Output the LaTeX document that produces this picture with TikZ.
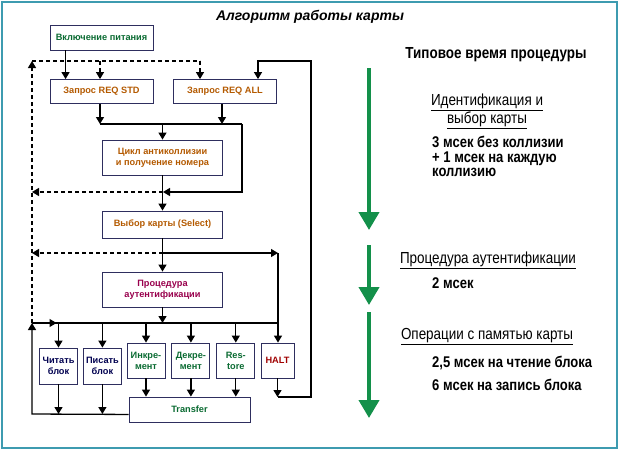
\documentclass[tikz,border=0pt]{standalone}
\usepackage{fontspec}
\setmainfont{Liberation Sans}
\newfontfamily\narrowfont[FakeStretch=0.84]{Liberation Sans}
\usetikzlibrary{arrows.meta, positioning, calc}
\definecolor{frameteal}{HTML}{3E9BB0}
\definecolor{boxline}{HTML}{2E2E5E}
\definecolor{txtgreen}{HTML}{0A6B32}
\definecolor{txtorange}{HTML}{B45A00}
\definecolor{txtpurple}{HTML}{99004D}
\definecolor{txtnavy}{HTML}{000050}
\definecolor{txtred}{HTML}{A00000}
\definecolor{timegreen}{HTML}{13904A}
\tikzset{
  box/.style={rectangle, draw=boxline, fill=white, line width=0.9pt,
              inner sep=0pt, align=center,
              font=\fontsize{9.2}{11}\selectfont\bfseries},
  widebox/.style={box, minimum width=103pt, minimum height=24pt},
  midbox/.style={box, minimum width=120pt, minimum height=35pt},
  opbox/.style={box, minimum width=38pt, minimum height=35pt},
  arrow/.style={-{Triangle[length=7pt, width=8pt]}, draw=black, line width=1.3pt},
  wire/.style={draw=black, line width=1.3pt},
  darrow/.style={-{Triangle[length=7pt, width=8pt]}, draw=black,
                 line width=1.3pt, dash pattern=on 4pt off 3pt},
  dwire/.style={draw=black, line width=1.3pt, dash pattern=on 4pt off 3pt},
  timearrow/.style={-{Triangle[length=18pt, width=20pt]}, draw=timegreen,
                    line width=4pt},
  rtext/.style={inner sep=0pt, align=left,
                font=\narrowfont\fontsize{15.5}{14.5}\selectfont\bfseries},
  rhead/.style={inner sep=0pt, align=center,
                font=\narrowfont\fontsize{16}{14}\selectfont},
}

\begin{document}
\begin{tikzpicture}[x=1pt, y=-1pt]
  \useasboundingbox (0,0) rectangle (620,451);
  \draw[frameteal, line width=1.6pt] (2,2) rectangle (617,448);

  \node[font=\fontsize{14}{16}\selectfont\bfseries\itshape] (title) at (310,17)
    {Алгоритм работы карты};

  % блоки алгоритма
  \node[widebox, minimum height=25pt, text=txtgreen] (power) at (101.5,37.5)
    {Включение питания};
  \node[widebox, text=txtorange] (reqstd) at (101.5,91.5) {Запрос REQ STD};
  \node[widebox, text=txtorange] (reqall) at (225,91.5) {Запрос REQ ALL};
  \node[midbox, text=txtorange] (loop) at (162.5,157.5)
    {Цикл антиколлизии\\и получение номера};
  \node[midbox, minimum height=27pt, text=txtorange] (select) at (162.5,224.5)
    {Выбор карты (Select)};
  \node[midbox, text=txtpurple] (auth) at (162.5,289.5)
    {Процедура\\аутентификации};

  \node[opbox, minimum height=36pt, text=txtnavy] (read) at (58.5,366) {Читать\\блок};
  \node[opbox, minimum height=36pt, text=txtnavy, right=5pt of read] (write) {Писать\\блок};
  \node[opbox, text=txtgreen] (inc) at (146,360.5) {Инкре-\\мент};
  \node[opbox, text=txtgreen, right=6pt of inc] (dec) {Декре-\\мент};
  \node[opbox, text=txtgreen, right=6pt of dec] (restore) {Res-\\tore};
  \node[opbox, minimum width=33pt, text=txtred] (halt) at (277.5,360.5) {HALT};
  \node[box, minimum width=121pt, minimum height=25pt, text=txtgreen] (transfer)
    at (189.5,409.5) {Transfer};

  % узлы линий
  \coordinate (dl) at (32,61);
  \coordinate (dm) at (100,61);
  \coordinate (dr) at (200,61);
  \coordinate (b1) at (100,124);
  \coordinate (b2) at (242,124);
  \coordinate (j1) at (163,192);
  \coordinate (j2) at (163,253);
  \coordinate (hc) at (278,253);
  \coordinate (sl) at (32,323);
  \coordinate (rb) at (32,414);
  \coordinate (hb) at (278,397);
  \coordinate (rt) at (311,61);
  \coordinate (ra) at (258,61);

  % связи
  \draw[arrow] ([xshift=16pt]power.south west) -- ([xshift=16pt]reqstd.north west);
  \draw[dwire] (dl) -- (dr);
  \draw[darrow] (dm) -- (dm |- reqstd.north);
  \draw[darrow] (dr) -- (dr |- reqall.north);
  \draw[darrow] (sl) -- (dl);

  \draw[arrow] (reqstd.south -| b1) -- (b1);
  \draw[arrow] ([xshift=-3pt]reqall.south) -- ([xshift=-3pt]reqall.south |- b1);
  \draw[wire] (b1) -- (b2);
  \draw[arrow] (loop.north |- b1) -- (loop.north);
  \draw[arrow] (b2) -- (b2 |- j1) -- (j1);
  \draw[arrow] (loop) -- (select);
  \draw[darrow] (j1) -- (j1 -| dl);

  \draw[arrow] (select) -- (auth);
  \draw[arrow] (j2) -- (hc);
  \draw[arrow] (hc) -- (hc |- halt.north);
  \draw[darrow] (j2) -- (j2 -| dl);

  \draw[arrow] (auth) -- (auth.south |- sl);
  \draw[wire] (sl) -- (sl -| hc);
  \draw[arrow] ([yshift=8pt]transfer.south west) -- (rb) -- (sl);
  \draw[arrow] (sl) -- ([xshift=-2pt]sl -| read.north);
  \foreach \op in {read, write, inc, dec, restore}
    \draw[arrow] (sl -| \op.north) -- (\op.north);

  \draw[arrow] (read) -- (read.south |- rb);
  \draw[arrow] (write) -- (write.south |- rb);
  \foreach \op in {inc, dec, restore}
    \draw[arrow] (\op) -- (\op.south |- transfer.north);

  \draw[arrow] (halt) -- (halt.south |- hb);
  \draw[arrow] (halt.south |- hb) -| (rt) -- (ra) -- (ra |- reqall.north);

  % время процедуры
  \coordinate (g0) at (369,68);
  \coordinate (g1) at (369,230);
  \coordinate (g2) at (369,245);
  \coordinate (g3) at (369,305);
  \coordinate (g4) at (369,312);
  \coordinate (g5) at (369,418);
  \draw[timearrow] (g0) -- (g1);
  \draw[timearrow] (g2) -- (g3);
  \draw[timearrow] (g4) -- (g5);

  \node[rtext, font=\narrowfont\fontsize{16}{16}\selectfont\bfseries] (typ)
    at (496,55) {Типовое время процедуры};
  \node[rhead] (idhead) at (487,111)
    {\underline{Идентификация и}\\\underline{выбор карты}};
  \node[rtext, anchor=north west] (id) at (432,136)
    {3 мсек без коллизии\\+ 1 мсек на каждую\\коллизию};
  \node[rhead] (authhead) at (488,260) {\underline{Процедура аутентификации}};
  \node[rtext, anchor=west] (au1) at (432,283) {2 мсек};
  \node[rhead] (memhead) at (487,337) {\underline{Операции с памятью карты}};
  \node[rtext, anchor=west] (mem1) at (432,363) {2,5 мсек на чтение блока};
  \node[rtext, anchor=west] (mem2) at (432,385) {6 мсек на запись блока};
\end{tikzpicture}
\end{document}
